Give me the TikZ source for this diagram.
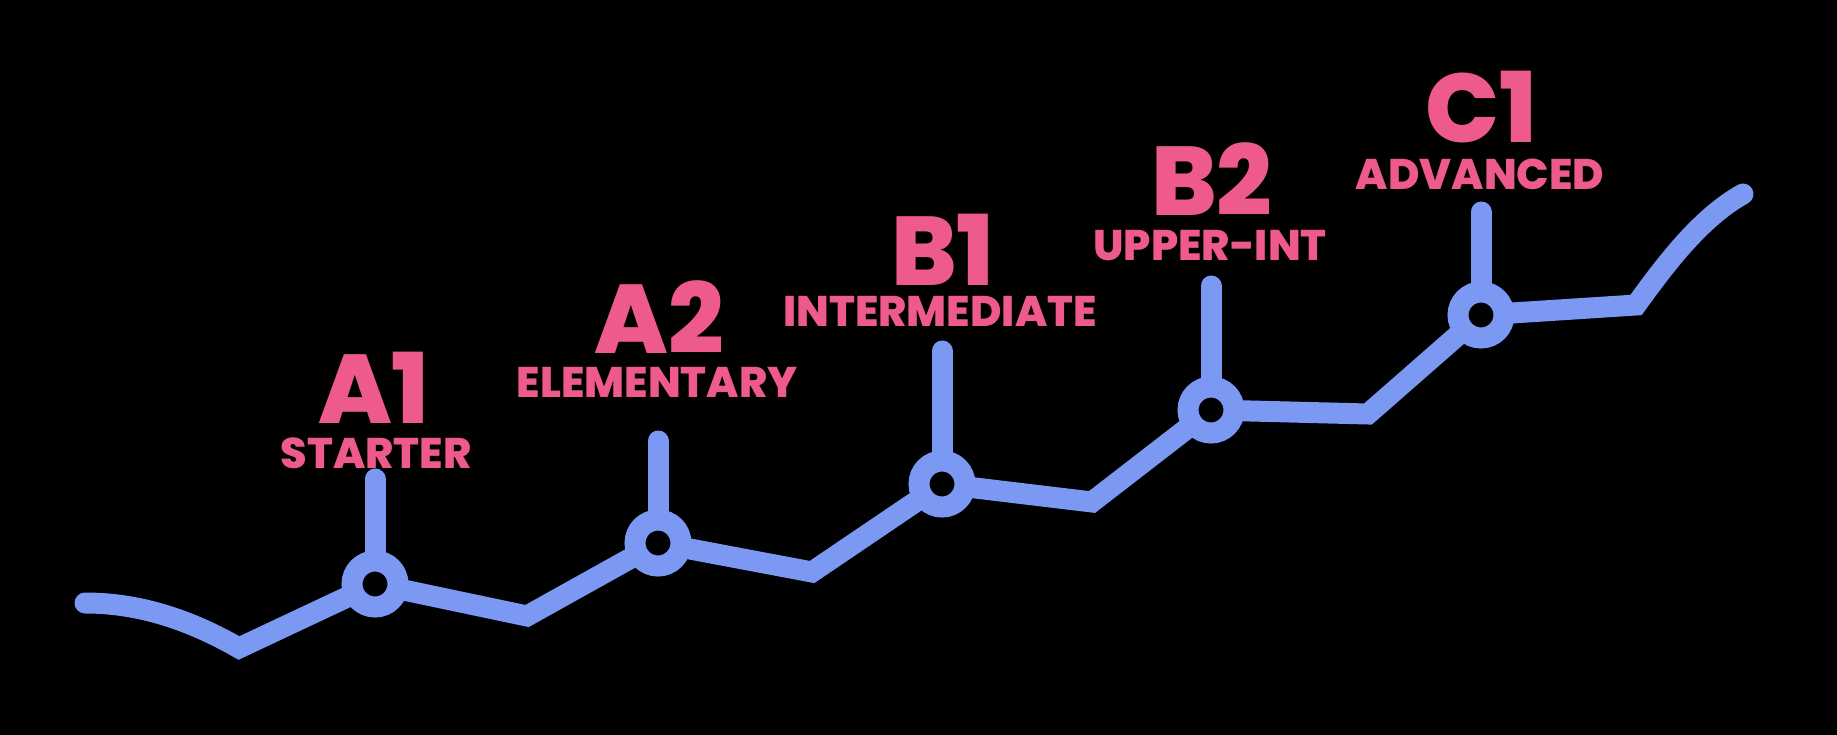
\documentclass[tikz,border=0pt]{standalone}
\usepackage{fontspec}
\newfontfamily\popb{Poppins ExtraBold}
\definecolor{lvpink}{HTML}{EE5B8A}
\definecolor{lvblue}{HTML}{7B98F2}
\begin{document}
\begin{tikzpicture}[x=1bp,y=-1bp,
  track/.style={draw=lvblue,line width=21bp,line join=miter,line cap=round},
  stem/.style={draw=lvblue,line width=21bp,line cap=round},
  ring/.style={circle,draw=lvblue,line width=21bp,fill=black,minimum size=46bp,inner sep=0pt,outer sep=0pt},
  big/.style={text=lvpink,font=\fontsize{98}{98}\popb,anchor=base,inner sep=0pt,text height=70bp,text depth=0pt},
  small/.style={text=lvpink,font=\fontsize{43}{43}\popb,anchor=base,inner sep=0pt,text height=31bp,text depth=0pt}]
\fill[black] (0,0) rectangle (1837,735);
\useasboundingbox (0,0) rectangle (1837,735);
% path points
\coordinate (s) at (85,603);
\coordinate (d1) at (239,648);
\coordinate (pa1) at (375,584);
\coordinate (d2) at (527,616);
\coordinate (pa2) at (658,543);
\coordinate (d3) at (812,572);
\coordinate (pb1) at (942,484);
\coordinate (d4) at (1092,502);
\coordinate (pb2) at (1211,410);
\coordinate (d5) at (1368,414);
\coordinate (pc1) at (1481,315);
\coordinate (d6) at (1636,305);
\coordinate (e) at (1743,194);
% stem tops
\coordinate (ta1) at (375,479);
\coordinate (ta2) at (658,441);
\coordinate (tb1) at (942,351);
\coordinate (tb2) at (1211,286);
\coordinate (tc1) at (1481,212);
\draw[track] (s) .. controls (140,603) and (190,620) .. (d1) -- (pa1) -- (d2) -- (pa2) -- (d3) -- (pb1) -- (d4) -- (pb2) -- (d5) -- (pc1) -- (d6) .. controls (1665,265) and (1700,218) .. (e);
\foreach \p in {a1,a2,b1,b2,c1} \draw[stem] (p\p) -- (t\p);
\foreach \p in {a1,a2,b1,b2,c1} \node[ring] (r\p) at (p\p) {};
% labels
\node[big] (la1) at (374,423) {A1};
\node[small] (sa1) at (376,468) {STARTER};
\node[big] (la2) at (659,353) {A2};
\node[small] (sa2) at (657,397) {ELEMENTARY};
\node[big] (lb1) at (943,285) {B1};
\node[small] (sb1) at (940,326) {INTERMEDIATE};
\node[big] (lb2) at (1212,215) {B2};
\node[small] (sb2) at (1210,260) {UPPER-INT};
\node[big] (lc1) at (1481,143) {C1};
\node[small] (sc1) at (1480,189) {ADVANCED};
\end{tikzpicture}
\end{document}
